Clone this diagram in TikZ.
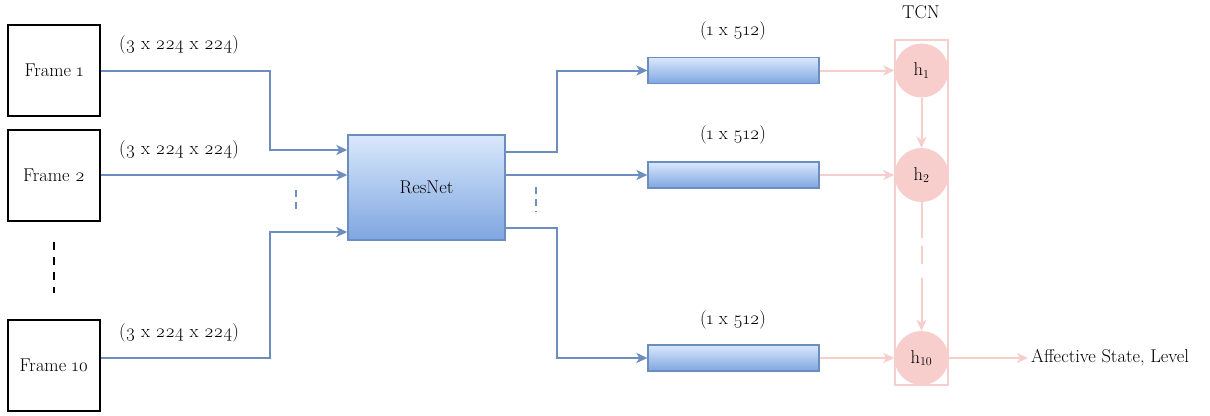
\documentclass[tikz,border=0pt]{standalone}
\usepackage{fontspec}
\setmainfont{Latin Modern Roman}[Numbers=OldStyle]
\usetikzlibrary{arrows.meta}
\definecolor{bline}{HTML}{6C8EBF}
\definecolor{btop}{HTML}{DAE8FC}
\definecolor{bbot}{HTML}{7EA6E0}
\definecolor{pinkc}{HTML}{F8CECC}
\begin{document}
\begin{tikzpicture}[x=1pt,y=-1pt,font=\fontsize{18.5}{22}\selectfont,
  framebox/.style={draw=black,line width=2pt,minimum width=92pt,minimum height=91pt,inner sep=0pt},
  resbox/.style={draw=bline,line width=1.4pt,top color=btop,bottom color=bbot,minimum width=157pt,minimum height=105pt,inner sep=0pt},
  featbar/.style={draw=bline,line width=1.2pt,top color=btop,bottom color=bbot,minimum width=171pt,minimum height=26pt,inner sep=0pt},
  barr/.style={draw=bline,line width=2pt,-{Stealth[length=11pt,width=10pt,inset=3pt]}},
  parr/.style={draw=pinkc,line width=2pt,-{Stealth[length=11pt,width=10pt,inset=3pt]}},
  hnode/.style={circle,fill=pinkc,minimum size=54pt,inner sep=0pt},
  lbl/.style={inner sep=0pt}]
\useasboundingbox (0,0) rectangle (1210,415);

% frames
\node[framebox] (f1) at (54,70.5) {Frame 1};
\node[framebox] (f2) at (54,175) {Frame 2};
\node[framebox] (f10) at (54,365) {Frame 10};
\draw[black,line width=2.4pt,dash pattern=on 8pt off 7pt] (54,242) -- (54,293);

% input labels
\node[lbl] (l1) at (179,45) {(3 x 224 x 224)};
\node[lbl] (l2) at (179,150) {(3 x 224 x 224)};
\node[lbl] (l3) at (179,333) {(3 x 224 x 224)};

% ResNet
\node[resbox] (rn) at (426.5,187.5) {ResNet};

\draw[barr] (f1.east) -- (270,70.5) |- ([yshift=37.5pt]rn.west);
\draw[barr] (f2.east) -- (rn.west |- f2.east);
\draw[barr] ([yshift=7pt]f10.east) -- (270,358) |- ([yshift=-44.5pt]rn.west);
\draw[bline,line width=2pt,dash pattern=on 7pt off 5pt] (296,190) -- (296,212);

% feature bars
\node[featbar] (b1) at (733.5,70.5) {};
\node[featbar] (b2) at (733.5,175) {};
\node[featbar] (b3) at (733.5,358) {};
\node[lbl] (d1) at (733,31) {(1 x 512)};
\node[lbl] (d2) at (733,135) {(1 x 512)};
\node[lbl] (d3) at (733,320) {(1 x 512)};

\draw[barr] ([yshift=36pt]rn.east) -- (557,151.5) |- (b1.west);
\draw[barr] (rn.east |- b2.west) -- (b2.west);
\draw[barr] ([yshift=-40pt]rn.east) -- (557,227.5) |- (b3.west);
\draw[bline,line width=2pt,dash pattern=on 7pt off 5pt] (536,187) -- (536,212);

% TCN
\node[draw=pinkc,line width=2pt,minimum width=53pt,minimum height=345pt,inner sep=0pt] (tcn) at (921.5,212.5) {};
\node[lbl] (tcnl) at (921,12) {TCN};
\node[hnode] (h1) at (921.5,70.5) {h$_1$};
\node[hnode] (h2) at (921.5,175) {h$_2$};
\node[hnode] (h10) at (921.5,358) {h$_{10}$};

\draw[parr] (b1.east) -- (h1.west);
\draw[parr] (b2.east) -- (h2.west);
\draw[parr] (b3.east) -- (h10.west);
\draw[parr] (h1.south) -- (h2.north);
\draw[parr,dash pattern=on 36pt off 8pt on 18pt off 14pt on 80pt] (h2.south) -- (h10.north);

\node[anchor=west,inner sep=3pt] (out) at (1028,358) {Affective State, Level};
\draw[parr] (h10.east) -- (out.west);
\end{tikzpicture}
\end{document}
